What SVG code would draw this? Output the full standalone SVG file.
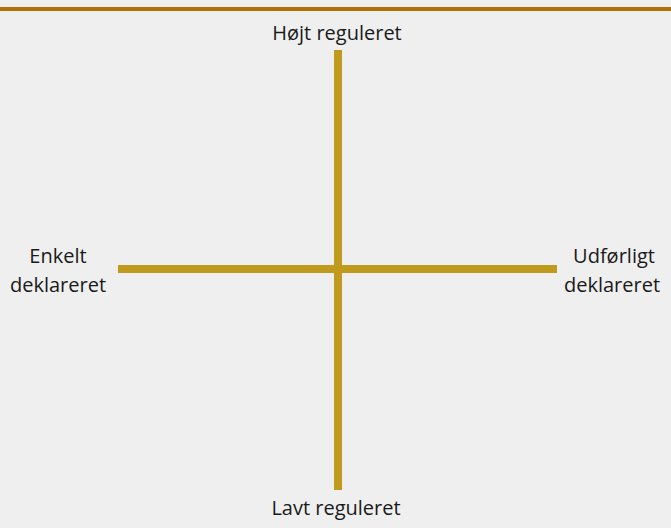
<svg xmlns="http://www.w3.org/2000/svg" width="671" height="528" viewBox="0 0 671 528">
<style>
.lbl{font-family:"Open Sans","Liberation Sans",sans-serif;font-size:20px;fill:#1a1a1a;text-anchor:middle}
.axis{stroke:#c09a1c;stroke-width:8;fill:none}
</style>
<rect width="671" height="528" fill="#efefef"/>
<rect x="0" y="7" width="671" height="4" fill="#b36f06"/>
<g id="connectors">
<line class="axis" x1="338" y1="50" x2="338" y2="490"/>
<line class="axis" x1="118" y1="269" x2="557" y2="269"/>
</g>
<g id="top"><text class="lbl" x="337" y="40">Højt reguleret</text></g>
<g id="bottom"><text class="lbl" x="336" y="515">Lavt reguleret</text></g>
<g id="left"><text class="lbl" x="58" y="263">Enkelt</text><text class="lbl" x="58" y="292">deklareret</text></g>
<g id="right"><text class="lbl" x="614" y="263">Udførligt</text><text class="lbl" x="612" y="292">deklareret</text></g>
</svg>
